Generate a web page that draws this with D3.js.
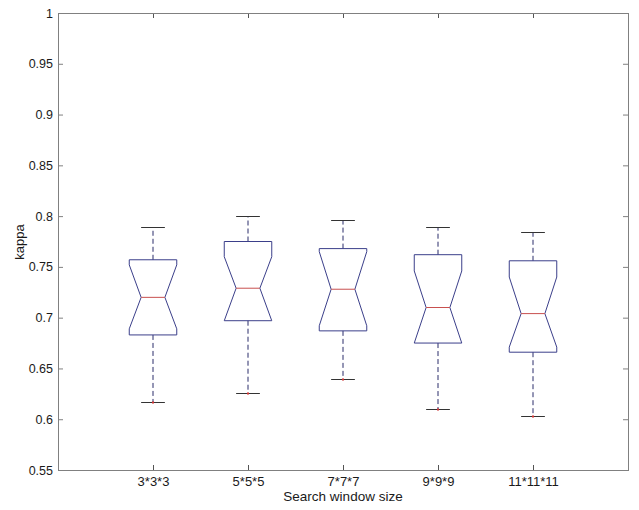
<!DOCTYPE html>
<html>
<head>
<meta charset="utf-8">
<script src="https://cdn.jsdelivr.net/npm/d3@7/dist/d3.min.js"></script>
<style>
  html, body { margin: 0; padding: 0; background: #fff; }
  svg { display: block; }
  text { font-family: "Liberation Sans", Arial, sans-serif; fill: #1a1a1a; }
</style>
</head>
<body>
<svg id="chart" width="639" height="510"></svg>
<script>
// Kappa by search window size (notched box plot)
const categories   = ["3*3*3", "5*5*5", "7*7*7", "9*9*9", "11*11*11"];
const upperWhisker = [0.789, 0.800, 0.796, 0.789, 0.784];
const q3           = [0.757, 0.775, 0.768, 0.762, 0.756];
const notchHigh    = [0.752, 0.760, 0.765, 0.746, 0.740];
const medians      = [0.720, 0.729, 0.728, 0.710, 0.704];
const notchLow     = [0.689, 0.697, 0.692, 0.675, 0.671];
const q1           = [0.683, 0.697, 0.687, 0.675, 0.666];
const lowerWhisker = [0.617, 0.626, 0.640, 0.610, 0.603];
const yTicks       = [0.55, 0.6, 0.65, 0.7, 0.75, 0.8, 0.85, 0.9, 0.95, 1];

const svg = d3.select("#chart");
const plotLeft = 58, plotRight = 628, plotTop = 13, plotBottom = 470;

const x = d3.scaleLinear().domain([0, categories.length + 1]).range([plotLeft, plotRight]);
const y = d3.scaleLinear().domain([0.55, 1]).range([plotBottom, plotTop]);

const axisColor = "#808080";
const tickLen = 5;
const fontSize = 12.5;
const fmt = v => d3.format("")(+v.toFixed(2));

// Y axis (left) with inward ticks, plus mirrored ticks on the right
const yAxis = d3.axisLeft(y).tickValues(yTicks).tickSizeInner(-tickLen).tickSizeOuter(0).tickPadding(5).tickFormat(fmt);
const gy = svg.append("g").attr("transform", `translate(${plotLeft},0)`).call(yAxis);
gy.select(".domain").remove();
gy.selectAll(".tick line").attr("stroke", axisColor);
gy.selectAll(".tick text").attr("font-size", fontSize).style("fill", "#1a1a1a");

const yAxisR = d3.axisRight(y).tickValues(yTicks).tickSizeInner(-tickLen).tickSizeOuter(0).tickFormat("");
const gyr = svg.append("g").attr("transform", `translate(${plotRight},0)`).call(yAxisR);
gyr.select(".domain").remove();
gyr.selectAll(".tick line").attr("stroke", axisColor);

// X axis (bottom) with category labels, plus mirrored ticks on top
const xPositions = categories.map((_, i) => i + 1);
const xAxis = d3.axisBottom(x).tickValues(xPositions).tickSizeInner(-tickLen).tickSizeOuter(0).tickPadding(7)
  .tickFormat((d, i) => categories[i]);
const gx = svg.append("g").attr("transform", `translate(0,${plotBottom})`).call(xAxis);
gx.select(".domain").remove();
gx.selectAll(".tick line").attr("stroke", "#555");
gx.selectAll(".tick text").attr("font-size", 13).style("fill", "#1a1a1a");

const xAxisT = d3.axisTop(x).tickValues(xPositions).tickSizeInner(-tickLen).tickSizeOuter(0).tickFormat("");
const gxt = svg.append("g").attr("transform", `translate(0,${plotTop})`).call(xAxisT);
gxt.select(".domain").remove();
gxt.selectAll(".tick line").attr("stroke", "#555");

// Frame
svg.append("rect")
  .attr("x", plotLeft + 0.5).attr("y", plotTop + 0.5)
  .attr("width", plotRight - plotLeft).attr("height", plotBottom - plotTop)
  .attr("fill", "none").attr("stroke", axisColor).attr("stroke-width", 1);

// Axis titles
svg.append("text")
  .attr("x", (plotLeft + plotRight) / 2).attr("y", 501)
  .attr("text-anchor", "middle").attr("font-size", 13.5)
  .text("Search window size");
svg.append("text")
  .attr("transform", "translate(24,242) rotate(-90)")
  .attr("text-anchor", "middle").attr("font-size", 13)
  .text("kappa");

// Boxes
const boxHalf = 0.25, notchHalf = 0.125, capHalf = 0.125;
const plot = svg.append("g");

categories.forEach((c, i) => {
  const cx = i + 1;
  const g = plot.append("g");

  // dashed whiskers
  g.append("line")
    .attr("x1", x(cx)).attr("x2", x(cx))
    .attr("y1", y(q3[i])).attr("y2", y(upperWhisker[i]))
    .attr("stroke", "#2a2c6a").attr("stroke-dasharray", "5,3");
  g.append("line")
    .attr("x1", x(cx)).attr("x2", x(cx))
    .attr("y1", y(q1[i])).attr("y2", y(lowerWhisker[i]))
    .attr("stroke", "#2a2c6a").attr("stroke-dasharray", "5,3");

  // whisker caps
  [upperWhisker[i], lowerWhisker[i]].forEach(v => {
    g.append("line")
      .attr("x1", x(cx - capHalf)).attr("x2", x(cx + capHalf))
      .attr("y1", Math.round(y(v)) + 0.5).attr("y2", Math.round(y(v)) + 0.5)
      .attr("stroke", "#333");
  });

  // notched box outline
  const pts = [
    [cx - boxHalf, q3[i]], [cx - boxHalf, notchHigh[i]], [cx - notchHalf, medians[i]],
    [cx - boxHalf, notchLow[i]], [cx - boxHalf, q1[i]], [cx + boxHalf, q1[i]],
    [cx + boxHalf, notchLow[i]], [cx + notchHalf, medians[i]], [cx + boxHalf, notchHigh[i]],
    [cx + boxHalf, q3[i]]
  ];
  g.append("path")
    .attr("d", d3.line().x(d => x(d[0])).y(d => y(d[1]))(pts) + "Z")
    .attr("fill", "none").attr("stroke", "#3b3f8a").attr("stroke-width", 1);

  // median
  g.append("line")
    .attr("x1", x(cx - notchHalf)).attr("x2", x(cx + notchHalf))
    .attr("y1", y(medians[i])).attr("y2", y(medians[i]))
    .attr("stroke", "#c8504f");

  // minimum marker
  g.append("rect")
    .attr("x", x(cx) - 1).attr("y", Math.round(y(lowerWhisker[i])) - 0.5)
    .attr("width", 2).attr("height", 2)
    .attr("fill", "#d03030");
});
</script>
</body>
</html>
